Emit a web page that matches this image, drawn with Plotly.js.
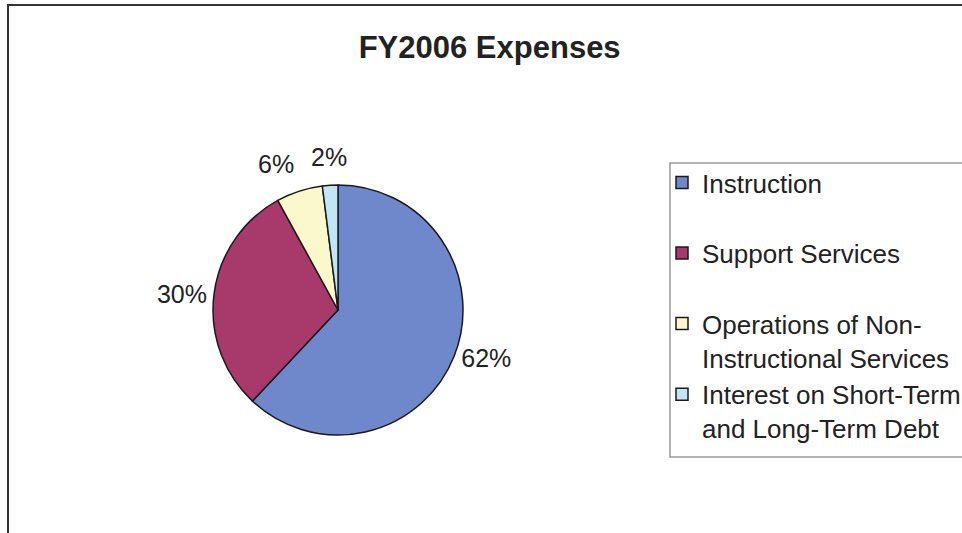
<!DOCTYPE html>
<html>
<head>
<meta charset="utf-8">
<script src="https://cdn.plot.ly/plotly-3.0.1.min.js"></script>
<style>html,body{margin:0;padding:0;background:#fff}#chart{width:962px;height:533px}</style>
</head>
<body>
<div id="chart"></div>
<script>
var categories = ["Instruction", "Support Services", "Operations of Non-Instructional Services", "Interest on Short-Term and Long-Term Debt"];
var legendNames = ["Instruction<br> ", "Support Services<br> ", "Operations of Non-<br>Instructional Services", "Interest on Short-Term<br>and Long-Term Debt"];
var percentages = [62, 30, 6, 2];
var sliceColors = ["#6f88cc", "#a8396b", "#fbf8cc", "#c2e6f6"];
var titleText = "FY2006 Expenses";

var W = 962, H = 533;
var FONT = "Liberation Sans, Arial, sans-serif";
// pie geometry (layout constants)
var cx = 338, cy = 310, R = 125;

var labelTexts = percentages.map(function(v){ return v + "%"; });
// large slices: library outside labels; tiny slices: placed beside their slice
var textPos = percentages.map(function(v){ return v >= 10 ? "outside" : "none"; });

var trace = {
  type: "pie",
  labels: legendNames,
  values: percentages,
  text: labelTexts,
  textinfo: "text",
  textposition: textPos,
  hoverinfo: "label+percent",
  sort: false,
  direction: "clockwise",
  rotation: 0,
  marker: { colors: sliceColors, line: { color: "#1a1a1a", width: 1.5 } },
  textfont: { family: FONT, size: 25, color: "#222" },
  domain: { x: [(cx - R)/W, (cx + R)/W], y: [1 - (cy + R)/H, 1 - (cy - R)/H] },
  showlegend: true
};

var total = percentages.reduce(function(a, b){ return a + b; }, 0);
var annotations = [];
var cum = 0;
percentages.forEach(function(v, i){
  var mid = (cum + v / 2) / total * 2 * Math.PI;
  cum += v;
  if (textPos[i] !== "none") return;
  var s = Math.sin(mid), c = Math.cos(mid);
  var d = R + 12;
  var px = cx + d * s, py = cy - d * c;
  annotations.push({
    xref: "paper", yref: "paper", x: px / W, y: 1 - py / H,
    text: labelTexts[i], showarrow: false,
    xanchor: s < -0.2 ? "right" : (s > 0.2 ? "left" : "center"),
    yanchor: c > 0.2 ? "bottom" : (c < -0.2 ? "top" : "middle"),
    font: { family: FONT, size: 25, color: "#222" }
  });
});

var layout = {
  width: W, height: H,
  margin: { l: 0, r: 0, t: 0, b: 0, autoexpand: false },
  paper_bgcolor: "#ffffff",
  title: {
    text: "<b>" + titleText + "</b>",
    font: { family: FONT, size: 31, color: "#222" },
    x: 0.509, xanchor: "center", y: 1 - 47/H, yanchor: "middle"
  },
  legend: {
    x: 662/W, xanchor: "left", y: 1 - 159/H, yanchor: "top",
    borderwidth: 0, bgcolor: "rgba(0,0,0,0)",
    valign: "top",
    font: { family: FONT, size: 26, color: "#222" },
    traceorder: "normal"
  },
  annotations: annotations,
  shapes: [
    { type: "rect", xref: "paper", yref: "paper", x0: 8/W, x1: 1.02, y0: -0.02, y1: 1 - 5/H,
      line: { color: "#333", width: 2 }, fillcolor: "rgba(0,0,0,0)", layer: "below" },
    { type: "rect", xref: "paper", yref: "paper", x0: 670/W, x1: 1.02, y0: 1 - 457/H, y1: 1 - 163/H,
      line: { color: "#999", width: 1.5 }, fillcolor: "rgba(0,0,0,0)", layer: "below" }
  ]
};

Plotly.newPlot("chart", [trace], layout, { displayModeBar: false, staticPlot: true });
</script>
</body>
</html>
